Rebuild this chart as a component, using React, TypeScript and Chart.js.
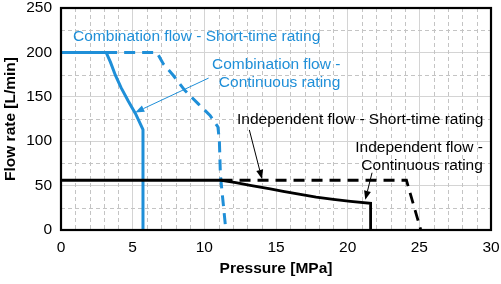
import React, { useEffect, useRef } from 'react';
import { Chart, registerables } from 'chart.js';

Chart.register(...registerables);

// ---- data ----
const combContPressure = [0, 3.15, 3.45, 3.8, 4.2, 4.7, 5.2, 5.72, 5.72];
const combContFlow = [200, 200, 189, 174, 160, 145, 131, 113, 0];

const combShortPressure = [3.15, 6.68, 7.14, 7.84, 8.65, 9.58, 10.4, 10.95, 11.05, 11.12, 11.5];
const combShortFlow = [200, 200, 187, 174, 157, 142, 129, 116, 100, 62, 0];

const indContPressure = [0, 11.2, 12.2, 13.2, 14.6, 15.5, 16.7, 17.8, 19.0, 20.2, 21.6, 21.6];
const indContFlow = [56, 56, 53.3, 50.3, 46.4, 43.5, 40, 37, 34.5, 32.3, 30, 0];

const indShortPressure = [11.2, 24.1, 25.1];
const indShortFlow = [56, 56, 0];

const xTickValues = [0, 5, 10, 15, 20, 25, 30];
const yTickValues = [0, 50, 100, 150, 200, 250];
const xMinorValues = [1, 2, 3, 4, 6, 7, 8, 9, 11, 12, 13, 14, 16, 17, 18, 19, 21, 22, 23, 24, 26, 27, 28, 29];
const yMinorValues = [25, 75, 125, 175, 225];

const noteTexts = [
  ['Combination flow - Short-time rating'],
  ['Combination flow -', 'Continuous rating'],
  ['Independent flow - Short-time rating'],
  ['Independent flow -', 'Continuous rating'],
];

// ---- styling / placement ----
const BLUE = '#1f8fd8';
const FONT = '"Liberation Sans", Arial, sans-serif';
const FS = 15.5;

const notePlacement = [
  { x: 0.84, y: 212.4, align: 'left', color: BLUE },
  { x: 19.49, y: 181.6, align: 'right', color: BLUE },
  { x: 12.28, y: 119.6, align: 'left', color: '#000' },
  { x: 29.43, y: 88.4, align: 'right', color: '#000' },
];

const arrows = [
  { from: [10.3, 171.1], to: [5.18, 132.4], color: BLUE },
  { from: [13.14, 112.7], to: [14.02, 57.5], color: '#000' },
  { from: [21.7, 64.5], to: [21.23, 34.0], color: '#000' },
];

const pts = (xs: number[], ys: number[]) => xs.map((x, i) => ({ x, y: ys[i] }));

export default function App() {
  const ref = useRef<HTMLCanvasElement>(null);

  useEffect(() => {
    if (!ref.current) return;

    const minorGridPlugin = {
      id: 'minorGrid',
      beforeDatasetsDraw(chart: any) {
        const { ctx, chartArea: a, scales } = chart;
        ctx.save();
        ctx.strokeStyle = '#c4c4c4';
        ctx.lineWidth = 1;
        ctx.setLineDash([4, 3]);
        xMinorValues.forEach((v) => {
          const px = Math.round(scales.x.getPixelForValue(v)) + 0.5;
          ctx.beginPath();
          ctx.moveTo(px, a.top);
          ctx.lineTo(px, a.bottom);
          ctx.stroke();
        });
        yMinorValues.forEach((v) => {
          const py = Math.round(scales.y.getPixelForValue(v)) + 0.5;
          ctx.beginPath();
          ctx.moveTo(a.left, py);
          ctx.lineTo(a.right, py);
          ctx.stroke();
        });
        ctx.restore();
      },
    };

    const annotPlugin = {
      id: 'annot',
      afterDatasetsDraw(chart: any) {
        const { ctx, scales } = chart;
        const xs = scales.x;
        const ys = scales.y;
        ctx.save();
        ctx.font = `${FS}px ${FONT}`;
        ctx.textBaseline = 'alphabetic';
        noteTexts.forEach((lines, i) => {
          const p = notePlacement[i];
          ctx.fillStyle = p.color;
          ctx.textAlign = p.align;
          const px = xs.getPixelForValue(p.x);
          const py = ys.getPixelForValue(p.y);
          lines.forEach((t, j) => ctx.fillText(t, px, py + j * 18.4));
        });
        arrows.forEach((a) => {
          const x1 = xs.getPixelForValue(a.from[0]);
          const y1 = ys.getPixelForValue(a.from[1]);
          const x2 = xs.getPixelForValue(a.to[0]);
          const y2 = ys.getPixelForValue(a.to[1]);
          const ang = Math.atan2(y2 - y1, x2 - x1);
          const L = 9;
          const W = 3.5;
          const bx = x2 - L * Math.cos(ang);
          const by = y2 - L * Math.sin(ang);
          ctx.strokeStyle = a.color;
          ctx.fillStyle = a.color;
          ctx.lineWidth = 1;
          ctx.beginPath();
          ctx.moveTo(x1, y1);
          ctx.lineTo(bx, by);
          ctx.stroke();
          ctx.beginPath();
          ctx.moveTo(x2, y2);
          ctx.lineTo(bx + W * Math.sin(ang), by - W * Math.cos(ang));
          ctx.lineTo(bx - W * Math.sin(ang), by + W * Math.cos(ang));
          ctx.closePath();
          ctx.fill();
        });
        ctx.restore();
      },
    };

    const framePlugin = {
      id: 'frame',
      afterDatasetsDraw(chart: any) {
        const { ctx, chartArea: a } = chart;
        ctx.save();
        ctx.strokeStyle = '#000';
        ctx.lineWidth = 2.2;
        ctx.strokeRect(a.left, a.top, a.right - a.left, a.bottom - a.top);
        ctx.restore();
      },
    };

    const lineDs = (label: string, data: any[], color: string, dash: number[], width: number) => ({
      label,
      data,
      borderColor: color,
      backgroundColor: color,
      borderWidth: width,
      borderDash: dash,
      pointRadius: 0,
      tension: 0,
      fill: false,
      borderCapStyle: 'butt',
      borderJoinStyle: 'miter',
    });

    const chart = new Chart(ref.current, {
      type: 'line',
      data: {
        datasets: [
          lineDs('Independent flow - Short-time rating', pts(indShortPressure, indShortFlow), '#000', [11, 7], 2.8),
          lineDs('Independent flow - Continuous rating', pts(indContPressure, indContFlow), '#000', [], 2.8),
          lineDs('Combination flow - Short-time rating', pts(combShortPressure, combShortFlow), BLUE, [11, 7], 3),
          lineDs('Combination flow - Continuous rating', pts(combContPressure, combContFlow), BLUE, [], 3),
        ] as any,
      },
      options: {
        animation: false,
        responsive: false,
        devicePixelRatio: 1,
        layout: { padding: { top: 8, right: 10, left: 0, bottom: 0 } },
        plugins: { legend: { display: false }, tooltip: { enabled: false } },
        scales: {
          x: {
            type: 'linear',
            position: 'bottom',
            min: 0,
            max: 30,
            afterBuildTicks: (s: any) => { s.ticks = xTickValues.map((v) => ({ value: v })); },
            ticks: { color: '#000', font: { family: FONT, size: FS }, padding: 8, maxRotation: 0, autoSkip: false },
            grid: { drawTicks: false, color: '#d4d4d4', lineWidth: 1 },
            border: { display: false },
            title: {
              display: true,
              text: 'Pressure [MPa]',
              color: '#000',
              font: { family: FONT, size: FS, weight: 'bold' },
              padding: { top: 0, bottom: 6 },
            },
            afterFit: (s: any) => {
              s.height = 54;
              s.paddingLeft = 0;
              s.paddingRight = 0;
            },
          },
          y: {
            type: 'linear',
            position: 'left',
            min: 0,
            max: 250,
            afterBuildTicks: (s: any) => { s.ticks = yTickValues.map((v) => ({ value: v })); },
            ticks: { color: '#000', font: { family: FONT, size: FS }, padding: 9, autoSkip: false },
            grid: { drawTicks: false, color: '#d4d4d4', lineWidth: 1 },
            border: { display: false },
            title: {
              display: true,
              text: 'Flow rate [L/min]',
              color: '#000',
              font: { family: FONT, size: FS, weight: 'bold' },
              padding: { top: 1, bottom: 0 },
            },
            afterFit: (s: any) => {
              s.width = 61;
              s.paddingTop = 0;
              s.paddingBottom = 0;
            },
          },
        },
      } as any,
      plugins: [minorGridPlugin, framePlugin, annotPlugin],
    });

    return () => chart.destroy();
  }, []);

  return (
    <div style={{ position: 'fixed', left: 0, top: 0, width: 501, height: 284, background: '#fff' }}>
      <canvas ref={ref} width={501} height={284} style={{ display: 'block' }} />
    </div>
  );
}
